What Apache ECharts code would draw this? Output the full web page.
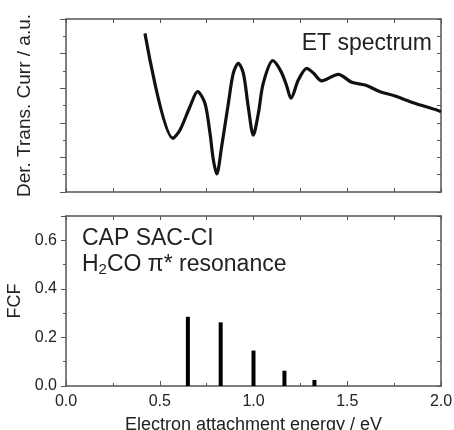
<!DOCTYPE html>
<html>
<head>
<meta charset="utf-8">
<script src="https://cdn.jsdelivr.net/npm/echarts@6/dist/echarts.min.js"></script>
<style>
html,body{margin:0;padding:0;background:#fff;}
#c{width:454px;height:430px;}
</style>
</head>
<body>
<div id="c"></div>
<script>
// ET spectrum (derivative of transmitted current, arbitrary units)
var etEnergy = [0.421,0.571,0.608,0.661,0.702,0.741,0.768,0.786,0.804,0.830,0.866,0.892,0.919,0.946,0.972,0.999,1.026,1.052,1.103,1.145,1.175,1.200,1.239,1.284,1.319,1.364,1.452,1.524,1.595,1.675,1.755,1.852,1.977,2.000];
var etSignal = [9.17,3.10,3.58,4.93,5.80,5.13,3.39,1.85,1.04,2.62,5.13,6.86,7.44,6.86,4.93,3.29,4.55,6.28,7.59,7.00,6.20,5.42,6.47,7.15,6.88,6.42,6.80,6.34,6.18,5.80,5.55,5.16,4.74,4.64];
// CAP SAC-CI Franck-Condon factors
var fcfEnergy = [0.65,0.825,1.0,1.165,1.325];
var fcfValue = [0.285,0.262,0.146,0.063,0.025];
var fcfTickLabels = ['0.0','0.2','0.4','0.6'];

var FONT = 'Liberation Sans, Arial, sans-serif';
var AX = '#555';

function zip(a,b){return a.map(function(v,i){return [v,b[i]];});}

var chart = echarts.init(document.getElementById('c'), null, {renderer:'canvas'});

var axLine = {show:true, onZero:false, lineStyle:{color:AX, width:1.5}};
var option = {
  animation:false,
  grid:[
    {left:66, top:19, width:375, height:173, containLabel:false, outerBoundsMode:'none'},
    {left:66, top:216, width:375, height:170, containLabel:false, outerBoundsMode:'none'}
  ],
  xAxis:[
    {gridIndex:0, type:'value', min:0, max:2, interval:0.25, position:'bottom',
     axisLine:axLine, axisTick:{inside:true,length:4,lineStyle:{color:AX}}, axisLabel:{show:false}, splitLine:{show:false}},
    {gridIndex:0, type:'value', min:0, max:2, interval:0.25, position:'top',
     axisLine:axLine, axisTick:{inside:true,length:4,lineStyle:{color:AX}}, axisLabel:{show:false}, splitLine:{show:false}},
    {gridIndex:1, type:'value', min:0, max:2, interval:0.5, position:'bottom',
     axisLine:axLine, axisTick:{inside:true,length:5,lineStyle:{color:AX}},
     minorTick:{show:true, splitNumber:2, length:3, lineStyle:{color:AX}},
     axisLabel:{fontFamily:FONT, fontSize:16, color:'#222', margin:8, formatter:function(v){return v.toFixed(1);}},
     splitLine:{show:false},
     name:'Electron attachment energy / eV', nameLocation:'middle', nameGap:30,
     nameTextStyle:{fontFamily:FONT, fontSize:18, color:'#222'}},
    {gridIndex:1, type:'value', min:0, max:2, interval:0.25, position:'top',
     axisLine:axLine, axisTick:{inside:true,length:4,lineStyle:{color:AX}}, axisLabel:{show:false}, splitLine:{show:false}}
  ],
  yAxis:[
    {gridIndex:0, type:'value', min:0, max:10, interval:2, position:'left',
     axisLine:axLine, axisTick:{inside:false,length:6,lineStyle:{color:AX}},
     minorTick:{show:true, splitNumber:2, length:3, lineStyle:{color:AX}},
     axisLabel:{show:false}, splitLine:{show:false},
     name:'Der. Trans. Curr / a.u.', nameLocation:'middle', nameGap:32,
     nameTextStyle:{fontFamily:FONT, fontSize:19, color:'#222'}},
    {gridIndex:0, type:'value', min:0, max:10, interval:1, position:'right',
     axisLine:axLine, axisTick:{inside:true,length:4,lineStyle:{color:AX}}, axisLabel:{show:false}, splitLine:{show:false}},
    {gridIndex:1, type:'value', min:0, max:0.7, interval:0.2, position:'left',
     axisLine:axLine, axisTick:{inside:false,length:5,lineStyle:{color:AX}},
     minorTick:{show:true, splitNumber:2, length:3, lineStyle:{color:AX}},
     axisLabel:{fontFamily:FONT, fontSize:16, color:'#222', margin:9, showMaxLabel:false,
       formatter:function(v){var i=Math.round(v/0.2); return (Math.abs(v-i*0.2)<1e-6 && fcfTickLabels[i])?fcfTickLabels[i]:'';}},
     splitLine:{show:false},
     name:'FCF', nameLocation:'middle', nameGap:34,
     nameTextStyle:{fontFamily:FONT, fontSize:18, color:'#222'}},
    {gridIndex:1, type:'value', min:0, max:0.7, interval:0.1, position:'right',
     axisLine:axLine, axisTick:{inside:true,length:4,lineStyle:{color:AX}}, axisLabel:{show:false}, splitLine:{show:false}}
  ],
  series:[
    {type:'line', xAxisIndex:0, yAxisIndex:0, data:zip(etEnergy, etSignal), smooth:0.3,
     symbol:'none', lineStyle:{color:'#111', width:3.2}},
    {type:'bar', xAxisIndex:2, yAxisIndex:2, data:zip(fcfEnergy, fcfValue), barWidth:4,
     itemStyle:{color:'#000'}}
  ],
  graphic:[
    {type:'text', right:22, top:32, style:{text:'ET spectrum', font:'23px '+FONT, fill:'#222'}},
    {type:'text', left:82, top:227, style:{text:'CAP SAC-CI', font:'23px '+FONT, fill:'#222'}},
    {type:'text', left:82, top:253, style:{
      text:'{a|H}{s|2}{a|CO π* resonance}',
      rich:{a:{fontSize:23, fontFamily:FONT, fill:'#222', color:'#222'},
            s:{fontSize:15, fontFamily:FONT, fill:'#222', color:'#222', padding:[10,0,0,0]}}
    }}
  ]
};
chart.setOption(option);
</script>
</body>
</html>
